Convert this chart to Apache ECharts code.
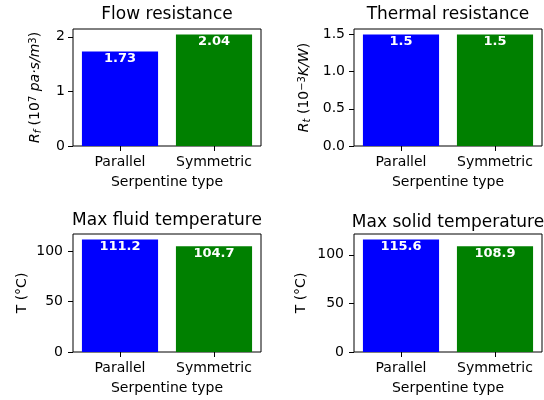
<!DOCTYPE html>
<html><head><meta charset="utf-8">
<script src="https://cdn.jsdelivr.net/npm/echarts@6/dist/echarts.min.js"></script>
<style>html,body{margin:0;padding:0;background:#fff}#c{width:544px;height:400px}</style>
</head><body><div id="c"></div>
<script>
const categories = ['Parallel', 'Symmetric'];
const colors = ['#0000ff', '#008000'];
const titles = ['Flow resistance', 'Thermal resistance', 'Max fluid temperature', 'Max solid temperature'];
const flowResistance = [1.73, 2.04];
const thermalResistance = [1.5, 1.5];
const maxFluidTemp = [111.2, 104.7];
const maxSolidTemp = [115.6, 108.9];
const yTicks1 = [0, 1, 2];
const yTicks2 = [0, 0.5, 1.0, 1.5];
const yTicks3 = [0, 50, 100];
const yTicks4 = [0, 50, 100];
const xName = 'Serpentine type';

const FONT = 'DejaVu Sans';
const panels = [
  {data: flowResistance, ticks: yTicks1, dec: 0, grid: {left: 73, top: 29, width: 188, height: 117},
   yname: '{i|R}{sub|f} (10{sup|7} {i|pa·s/m}{sup|3})', gap: 30, tx: 167, ty: 6, lm: 8},
  {data: thermalResistance, ticks: yTicks2, dec: 1, grid: {left: 354, top: 29, width: 188, height: 117},
   yname: '{i|R}{sub|t} (10{sup|−3}{i|K/W})', gap: 42, tx: 448, ty: 6, lm: 9},
  {data: maxFluidTemp, ticks: yTicks3, dec: 0, grid: {left: 73, top: 234, width: 188, height: 118},
   yname: 'T (°C)', gap: 44, tx: 167, ty: 212, lm: 10},
  {data: maxSolidTemp, ticks: yTicks4, dec: 0, grid: {left: 354, top: 234, width: 188, height: 118},
   yname: 'T (°C)', gap: 46, tx: 448, ty: 214, lm: 10}
];

const option = {
  animation: false,
  backgroundColor: '#fff',
  title: panels.map((p, i) => ({
    text: titles[i], left: p.tx, top: p.ty, textAlign: 'center', padding: 0,
    textStyle: {fontFamily: FONT, fontSize: 17, fontWeight: 'normal', color: '#000'}
  })),
  grid: panels.map(p => Object.assign({show: true, borderColor: '#000', borderWidth: 1, backgroundColor: '#fff'}, p.grid)),
  xAxis: panels.map((p, i) => ({
    type: 'category', gridIndex: i, data: categories, boundaryGap: true,
    axisLine: {show: false},
    axisTick: {show: true, alignWithLabel: true, interval: 0, length: 5, lineStyle: {color: '#000'}},
    axisLabel: {fontFamily: FONT, fontSize: 14, color: '#000', margin: 9, interval: 0, hideOverlap: false},
    name: xName, nameLocation: 'middle', nameGap: 29,
    nameTextStyle: {fontFamily: FONT, fontSize: 14, color: '#000'}
  })),
  yAxis: panels.map((p, i) => {
    const m = Math.max(...p.data) * 1.05;
    return {
      type: 'value', gridIndex: i, min: 0, max: m,
      splitLine: {show: false},
      axisLine: {show: false},
      axisTick: {show: true, length: 5, customValues: p.ticks, lineStyle: {color: '#000'}},
      axisLabel: {fontFamily: FONT, fontSize: 14, color: '#000', margin: p.lm, customValues: p.ticks,
        formatter: v => v.toFixed(p.dec)},
      name: p.yname, nameLocation: 'middle', nameRotate: 90, nameGap: p.gap,
      nameTextStyle: {fontFamily: FONT, fontSize: 14, color: '#000',
        rich: {
          i: {fontFamily: FONT, fontSize: 14, fontStyle: 'italic', color: '#000'},
          sub: {fontFamily: FONT, fontSize: 10, fontStyle: 'italic', color: '#000', verticalAlign: 'bottom', padding: [4, 0, 0, 0]},
          sup: {fontFamily: FONT, fontSize: 10, color: '#000', verticalAlign: 'top', padding: [0, 0, 5, 0]}
        }}
    };
  }),
  series: panels.map((p, i) => ({
    type: 'bar', xAxisIndex: i, yAxisIndex: i, barWidth: '81%',
    data: p.data.map((v, j) => ({value: v, itemStyle: {color: colors[j]}})),
    label: {show: true, position: 'insideTop', distance: 1, color: '#fff', fontFamily: FONT,
      fontSize: 13, fontWeight: 'bold', formatter: d => String(d.value)}
  }))
};
echarts.init(document.getElementById('c')).setOption(option);
</script></body></html>
